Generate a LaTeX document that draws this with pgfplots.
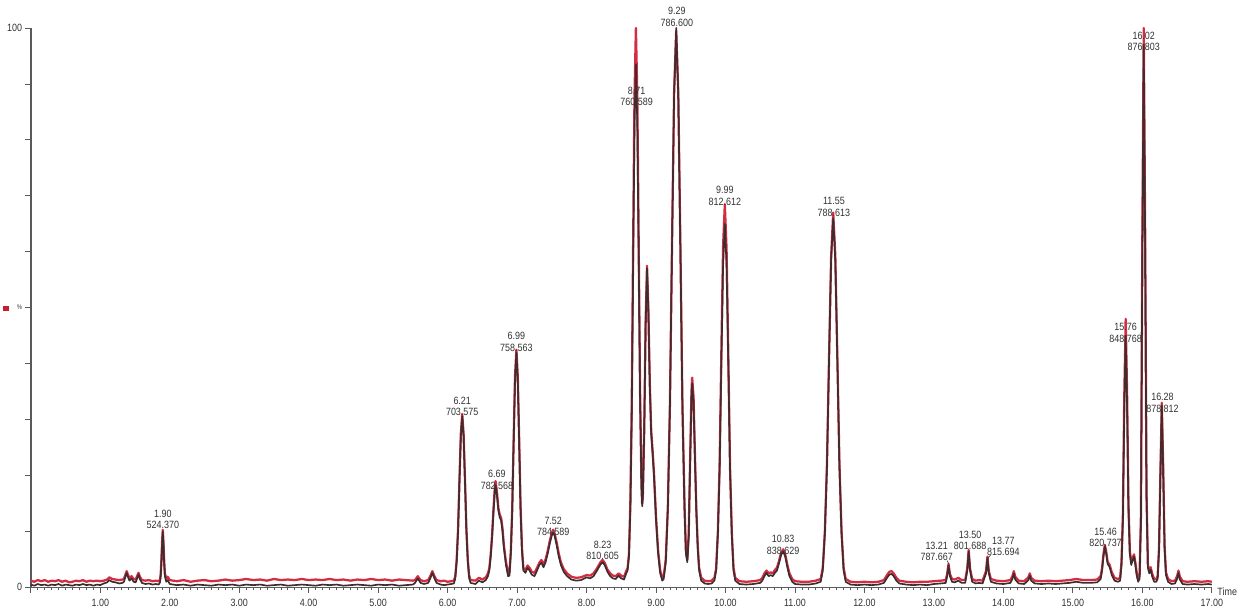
\documentclass[border=0pt]{standalone}
\usepackage{pgfplots}
\pgfplotsset{compat=1.18}
\usepackage{pgfplotstable}
\usepackage{fontspec}
\setmainfont{Liberation Sans}[FakeStretch=0.85]
\definecolor{trred}{RGB}{210,45,65}
\definecolor{trblk}{RGB}{62,44,46}
\definecolor{axgray}{RGB}{90,90,90}
\definecolor{txt}{RGB}{50,50,50}
\definecolor{sqred}{RGB}{200,30,50}
\tikzset{plab/.style={font=\fontsize{7.9}{8.4}\selectfont, text=txt, align=center, inner sep=0pt}}

\pgfplotstableread{
t k r
0.00 0.5 1.2
0.05 0.3 1.0
0.10 0.6 1.3
0.15 0.4 1.1
0.20 0.5 1.3
0.25 0.3 1.0
0.30 0.5 1.2
0.35 0.4 1.1
0.40 0.6 1.3
0.45 0.3 1.0
0.50 0.5 1.2
0.55 0.4 0.9
0.60 0.3 1.0
0.65 0.5 1.2
0.70 0.4 1.1
0.75 0.6 1.3
0.80 0.4 1.0
0.85 0.5 1.2
0.90 0.3 1.1
0.95 0.5 1.2
1.00 0.4 1.1
1.05 0.7 1.2
1.10 0.9 1.4
1.13 1.3 1.8
1.17 1.0 1.5
1.22 0.9 1.4
1.27 0.7 1.3
1.32 0.8 1.4
1.34 1.0 1.5
1.36 1.8 2.2
1.38 2.6 2.9
1.40 1.8 2.2
1.42 1.2 1.7
1.45 1.6 2.0
1.48 1.0 1.5
1.51 0.9 1.4
1.53 1.6 2.0
1.55 2.3 2.6
1.57 1.5 1.9
1.60 0.8 1.3
1.65 0.6 1.2
1.70 0.7 1.3
1.75 0.5 1.1
1.80 0.6 1.2
1.84 0.5 1.1
1.86 0.9 1.4
1.87 2.0 2.4
1.88 4.5 4.9
1.89 7.8 8.2
1.90 10.0 10.3
1.91 7.5 7.9
1.92 4.2 4.6
1.93 2.0 2.5
1.95 1.0 1.6
1.97 1.3 1.9
2.00 0.6 1.3
2.1 0.4 1.1
2.2 0.5 1.3
2.3 0.3 1.0
2.4 0.5 1.2
2.5 0.4 1.3
2.6 0.3 1.1
2.7 0.5 1.2
2.8 0.4 1.4
2.9 0.5 1.2
3.0 0.3 1.3
3.1 0.5 1.5
3.2 0.4 1.3
3.3 0.5 1.4
3.4 0.3 1.2
3.5 0.4 1.5
3.6 0.5 1.3
3.7 0.3 1.4
3.8 0.4 1.3
3.9 0.5 1.5
4.0 0.4 1.3
4.1 0.3 1.4
4.2 0.5 1.3
4.3 0.4 1.5
4.4 0.5 1.3
4.5 0.3 1.4
4.6 0.4 1.2
4.7 0.5 1.4
4.8 0.4 1.3
4.9 0.3 1.5
5.0 0.5 1.3
5.1 0.4 1.4
5.2 0.5 1.2
5.3 0.3 1.4
5.4 0.4 1.3
5.5 0.5 1.2
5.53 0.8 1.3
5.57 1.6 2.0
5.61 0.8 1.3
5.66 0.6 1.1
5.72 0.8 1.3
5.75 1.6 2.0
5.78 2.6 2.9
5.81 1.6 2.0
5.84 0.8 1.3
5.90 0.5 1.1
5.95 0.4 1.2
6.00 0.5 1.0
6.05 0.6 1.1
6.09 0.7 1.2
6.11 1.6 2.0
6.13 4.6 4.9
6.15 10.1 10.4
6.17 18.8 19.2
6.19 27.0 27.5
6.21 30.6 31.0
6.23 27.0 27.3
6.25 18.8 19.2
6.27 10.1 10.5
6.29 4.6 5.0
6.31 1.6 2.1
6.33 0.8 1.3
6.40 0.6 1.2
6.45 1.2 1.7
6.50 0.9 1.4
6.55 1.3 1.8
6.58 2.0 2.5
6.60 3.0 3.4
6.62 5.5 5.9
6.64 9.0 9.4
6.66 13.5 14.0
6.68 17.3 18.0
6.69 18.3 19.0
6.71 16.5 17.0
6.73 13.8 14.2
6.75 12.5 13.0
6.77 12.0 12.4
6.79 10.0 10.5
6.81 7.0 7.5
6.84 4.0 4.5
6.87 2.0 2.6
6.89 2.1 2.6
6.91 6.2 6.6
6.93 13.8 14.2
6.95 25.8 26.3
6.97 37.0 37.8
6.99 42.0 42.5
7.01 37.0 37.5
7.03 25.8 26.2
7.05 13.8 14.3
7.07 6.5 7.0
7.09 3.0 3.5
7.12 2.6 3.1
7.15 3.5 3.9
7.18 3.0 3.5
7.21 2.3 2.8
7.25 2.0 2.6
7.28 2.8 3.3
7.32 4.0 4.4
7.35 4.4 4.9
7.38 3.6 4.1
7.41 4.5 5.0
7.44 6.0 6.5
7.47 7.8 8.3
7.50 9.3 9.8
7.52 9.8 10.3
7.54 9.2 9.6
7.57 7.5 8.0
7.60 5.5 6.0
7.63 4.0 4.5
7.67 2.8 3.3
7.72 2.0 2.5
7.78 1.4 1.9
7.85 1.2 1.7
7.92 1.3 1.8
8.00 1.8 2.2
8.05 1.6 2.1
8.10 2.0 2.5
8.15 3.0 3.4
8.20 4.1 4.5
8.23 4.5 4.9
8.26 4.0 4.4
8.30 2.8 3.2
8.34 2.0 2.5
8.38 1.6 2.1
8.42 1.5 2.0
8.46 2.1 2.5
8.50 1.6 2.1
8.54 1.4 1.9
8.57 2.5 2.9
8.59 3.0 3.4
8.61 5.5 6.0
8.63 14.0 15.0
8.65 30.5 32.5
8.67 57.5 61.0
8.69 82.5 88.0
8.71 93.5 100.0
8.73 83.0 88.0
8.75 59.0 61.5
8.77 34.0 35.0
8.79 18.0 18.5
8.80 14.5 15.0
8.81 16.0 16.5
8.83 28.0 28.5
8.85 47.0 47.5
8.87 57.0 57.5
8.89 49.0 49.5
8.91 36.0 36.5
8.93 27.5 28.0
8.95 24.0 24.5
8.97 20.0 20.5
9.00 12.0 12.5
9.03 6.0 6.5
9.06 2.5 3.0
9.09 1.2 1.7
9.11 1.5 2.0
9.14 4.5 5.0
9.17 14.0 14.5
9.20 32.5 33.0
9.23 61.0 61.5
9.26 88.0 88.5
9.29 100.0 99.5
9.32 88.0 88.5
9.35 61.0 61.5
9.38 32.0 32.5
9.41 14.0 14.5
9.43 6.0 6.5
9.45 4.5 5.0
9.47 9.0 9.5
9.49 22.0 22.5
9.51 34.0 35.0
9.52 36.5 37.5
9.54 33.0 34.0
9.56 23.0 23.5
9.58 13.5 14.0
9.60 7.0 7.5
9.62 3.0 3.5
9.65 1.2 1.7
9.70 0.7 1.2
9.75 0.6 1.1
9.80 0.7 1.2
9.84 1.2 1.7
9.865 3.0 3.4
9.89 9.5 10.0
9.915 21.0 22.0
9.94 40.0 42.0
9.965 57.5 61.0
9.99 65.0 68.5
10.015 57.5 60.5
10.04 40.0 41.5
10.065 21.0 21.5
10.09 9.5 10.0
10.115 3.0 3.5
10.14 1.2 1.7
10.20 0.6 1.1
10.30 0.5 1.0
10.40 0.6 1.1
10.50 0.8 1.3
10.53 1.2 1.7
10.56 2.0 2.5
10.59 2.6 3.0
10.62 2.0 2.5
10.65 2.2 2.7
10.68 2.0 2.5
10.71 2.6 3.1
10.74 3.0 3.5
10.77 4.3 4.7
10.80 5.8 6.2
10.83 6.4 6.8
10.86 5.5 5.9
10.89 3.6 4.0
10.92 2.0 2.5
10.96 1.0 1.5
11.00 0.6 1.1
11.10 0.5 1.0
11.20 0.5 1.0
11.30 0.7 1.2
11.37 1.0 1.5
11.40 3.0 3.5
11.43 9.6 10.0
11.46 21.5 22.0
11.49 40.5 41.0
11.52 58.5 59.0
11.55 66.0 67.0
11.58 58.5 59.5
11.61 40.5 41.0
11.64 21.5 22.0
11.67 9.6 10.0
11.70 3.0 3.5
11.73 1.0 1.5
11.80 0.5 1.0
11.90 0.4 0.9
12.00 0.5 1.0
12.10 0.4 0.9
12.20 0.5 1.0
12.28 0.8 1.3
12.30 1.2 1.7
12.33 1.8 2.3
12.36 2.3 2.8
12.39 2.4 2.9
12.42 2.0 2.5
12.46 1.2 1.7
12.50 0.7 1.2
12.60 0.5 1.0
12.70 0.4 0.9
12.80 0.5 1.0
12.90 0.4 1.0
13.00 0.6 1.1
13.10 0.7 1.2
13.17 0.8 1.3
13.19 2.0 2.4
13.21 3.9 4.2
13.23 2.0 2.4
13.26 1.0 1.5
13.30 0.9 1.4
13.35 1.2 1.7
13.40 0.8 1.3
13.45 0.8 1.3
13.48 3.0 3.4
13.50 6.4 6.7
13.52 3.0 3.4
13.55 1.0 1.5
13.60 0.7 1.2
13.65 0.8 1.3
13.70 0.7 1.2
13.75 2.5 2.9
13.77 5.2 5.5
13.79 2.5 2.9
13.82 1.0 1.5
13.90 0.7 1.2
14.00 0.6 1.1
14.10 0.8 1.3
14.13 1.5 2.0
14.15 2.5 2.9
14.17 1.4 1.9
14.22 0.7 1.2
14.30 0.6 1.1
14.36 1.3 1.8
14.38 2.1 2.5
14.40 1.2 1.7
14.45 0.7 1.2
14.55 0.6 1.1
14.65 0.7 1.2
14.75 0.6 1.1
14.85 0.7 1.2
14.95 0.8 1.3
15.05 1.0 1.5
15.15 0.8 1.3
15.25 0.8 1.3
15.35 0.9 1.4
15.40 1.5 2.0
15.42 3.0 3.4
15.44 5.5 5.9
15.46 7.3 7.6
15.48 6.0 6.4
15.50 4.2 4.6
15.53 3.6 4.0
15.56 2.2 2.7
15.60 1.2 1.7
15.65 1.0 1.5
15.68 1.2 1.7
15.70 4.0 4.5
15.72 12.0 13.0
15.74 32.0 34.0
15.76 45.0 48.0
15.78 33.0 35.0
15.80 14.0 15.0
15.82 6.0 6.5
15.84 4.0 4.5
15.86 4.8 5.2
15.88 5.5 5.9
15.90 4.0 4.4
15.92 2.0 2.5
15.94 1.0 1.5
15.96 1.5 2.0
15.98 12.0 13.0
16.00 60.0 62.0
16.02 97.0 100.0
16.04 62.0 64.0
16.06 16.0 17.0
16.08 3.5 4.0
16.10 2.5 3.0
16.12 3.2 3.6
16.14 2.0 2.5
16.17 1.0 1.5
16.20 1.0 1.5
16.22 1.5 2.0
16.24 6.5 7.0
16.26 20.0 20.5
16.28 32.5 33.0
16.30 21.0 21.5
16.32 7.0 7.5
16.34 2.2 2.7
16.37 1.0 1.5
16.42 0.6 1.1
16.47 0.7 1.2
16.50 1.5 2.0
16.52 2.6 3.0
16.54 1.4 1.9
16.58 0.6 1.1
16.65 0.5 1.0
16.75 0.6 1.1
16.85 0.5 1.0
16.95 0.6 1.1
17.00 0.5 1.0
}\chrom

\begin{document}
\begin{tikzpicture}
\begin{axis}[
  scale only axis, width=885.2pt, height=419.25pt,
  xmin=0, xmax=17, ymin=0, ymax=100,
  axis x line*=bottom, axis y line*=left,
  axis line style={axgray, line width=1.2pt},
  clip=false,
  xtick={0,...,17},
  xticklabels={,1.00,2.00,3.00,4.00,5.00,6.00,7.00,8.00,9.00,10.00,11.00,12.00,13.00,14.00,15.00,16.00,17.00},
  minor x tick num=9,
  ytick={0,10,...,100},
  yticklabels={0,,,,,{\fontsize{5}{5}\selectfont\%},,,,,100},
  tick align=outside,
  major tick length=4pt, minor tick length=2.2pt,
  tick style={axgray, line width=0.6pt},
  ticklabel style={font=\fontsize{7.9}{9}\selectfont, text=txt},
  xticklabel style={yshift=-1pt},
  yticklabel style={xshift=1pt},
  /pgf/number format/assume math mode=true,
]
\addplot[trred, line width=1.7pt, line join=round] table[x=t,y=r]{\chrom};
\addplot[trblk, line width=1.25pt, line join=round] table[x=t,y=k]{\chrom};

\node[plab] at (axis cs:1.90,12.2) {1.90\\524.370};
\node[plab] at (axis cs:6.21,32.3) {6.21\\703.575};
\node[plab] at (axis cs:6.71,19.2) {6.69\\782.568};
\node[plab] at (axis cs:6.99,43.9) {6.99\\758.563};
\node[plab] at (axis cs:7.52,10.9) {7.52\\784.589};
\node[plab] at (axis cs:8.23,6.6) {8.23\\810.605};
\node[plab] at (axis cs:8.72,87.8) {8.71\\760.589};
\node[plab] at (axis cs:9.30,102.0) {9.29\\786.600};
\node[plab] at (axis cs:9.99,70.0) {9.99\\812.612};
\node[plab] at (axis cs:10.83,7.6) {10.83\\838.629};
\node[plab] at (axis cs:11.56,68.0) {11.55\\788.613};
\node[plab] at (axis cs:13.04,6.4) {13.21\\787.667};
\node[plab] at (axis cs:13.52,8.35) {13.50\\801.688};
\node[plab] at (axis cs:14.00,7.3) {13.77\\815.694};
\node[plab] at (axis cs:15.47,8.9) {15.46\\820.737};
\node[plab] at (axis cs:15.76,45.5) {15.76\\848.768};
\node[plab] at (axis cs:16.02,97.6) {16.02\\876.803};
\node[plab] at (axis cs:16.29,33.0) {16.28\\878.812};
\draw[txt, line width=0.4pt] (axis cs:13.19,4.8) -- (axis cs:13.215,4.2);
\draw[txt, line width=0.4pt] (axis cs:13.775,5.1) -- (axis cs:13.815,5.8);

\node[anchor=west, font=\fontsize{7.9}{9}\selectfont, text=txt, inner sep=0pt] at (rel axis cs:1,0) [xshift=4pt, yshift=-3pt] {Time};
\node[fill=sqred, minimum size=3.8pt, inner sep=0pt] at (rel axis cs:-0.021,0.499) {};

\coordinate (bl) at (rel axis cs:-0.0261,-0.0483);
\coordinate (tr) at (rel axis cs:1.0281,1.0501);
\end{axis}
\path (bl) rectangle (tr);
\end{tikzpicture}
\end{document}
